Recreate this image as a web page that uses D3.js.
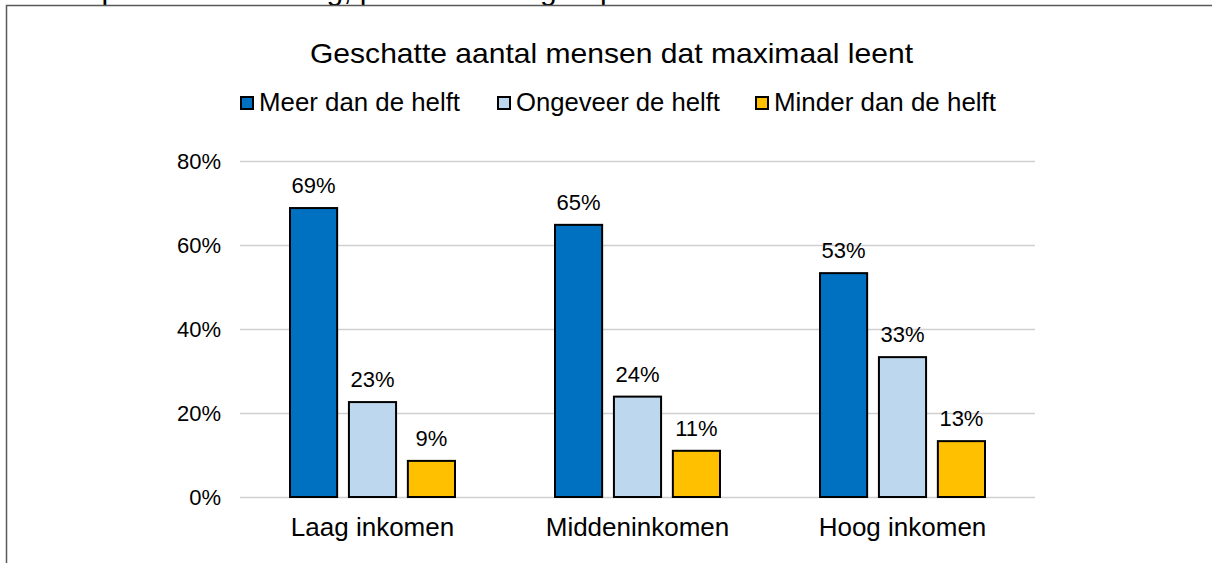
<!DOCTYPE html>
<html>
<head>
<meta charset="utf-8">
<script src="https://cdn.jsdelivr.net/npm/d3@7"></script>
<style>
  body { margin: 0; background: #fff; }
  svg { display: block; font-family: "Liberation Sans", Arial, sans-serif; }
</style>
</head>
<body>
<svg id="chart" width="1212" height="563"></svg>
<script>
const categories = ['Laag inkomen', 'Middeninkomen', 'Hoog inkomen']
const seriesNames = ['Meer dan de helft', 'Ongeveer de helft', 'Minder dan de helft']
const meerDanDeHelft = [68.8, 64.8, 53.3]
const ongeveerDeHelft = [22.6, 23.9, 33.3]
const minderDanDeHelft = [8.6, 11.0, 13.3]
const yTicks = [0, 20, 40, 60, 80]
const colors = ['#0070C0', '#BDD7EE', '#FFC000']

const series = [meerDanDeHelft, ongeveerDeHelft, minderDanDeHelft]

let svg = d3.select('#chart')
let margin = { top: 161, left: 240, right: 177, bottom: 66 }
let width = 1212 - margin.left - margin.right
let height = 563 - margin.top - margin.bottom

// caption line, cut off above the chart frame
svg.append('text')
    .attr('x', 8)
    .attr('y', -0.5)
    .attr('font-size', 30)
    .attr('fill', '#000')
    .text('Kans op maximale lening, per inkomensgroep')

// chart frame
svg.append('path')
    .attr('d', 'M6.5,563 V5.5 H1212')
    .attr('fill', 'none')
    .attr('stroke', '#595959')
    .attr('stroke-width', 1.5)

svg.append('text')
    .attr('x', 611.5)
    .attr('y', 63)
    .attr('text-anchor', 'middle')
    .attr('font-size', 28)
    .attr('textLength', 603)
    .attr('lengthAdjust', 'spacingAndGlyphs')
    .attr('fill', '#000')
    .text('Geschatte aantal mensen dat maximaal leent')

// legend
let legendX = [240, 497, 755]
let legendW = [201, 204, 222]
svg.append('g')
  .selectAll('g')
  .data(seriesNames)
  .join('g')
    .attr('transform', (d, i) => `translate(${legendX[i]},96)`)
    .each(function (d, i) {
      let g = d3.select(this)
      g.append('rect')
          .attr('x', 1)
          .attr('y', 1)
          .attr('width', 12)
          .attr('height', 12)
          .attr('fill', colors[i])
          .attr('stroke', '#000')
          .attr('stroke-width', 2)
      g.append('text')
          .attr('x', 19)
          .attr('y', 15)
          .attr('font-size', 25)
          .attr('textLength', legendW[i])
          .attr('lengthAdjust', 'spacingAndGlyphs')
          .attr('fill', '#000')
          .text(d)
    })

let plot = svg.append('g')
    .attr('transform', `translate(${margin.left},${margin.top})`)

let x0 = d3.scaleBand()
    .domain(categories)
    .range([0, width])

let x1 = d3.scaleBand()
    .domain(d3.range(series.length))
    .range([50, x0.bandwidth() - 50])
    .paddingInner(0.2)

let y = d3.scaleLinear()
    .domain([0, 80])
    .range([height, 0])

// gridlines
plot.append('g')
  .selectAll('line')
  .data(yTicks)
  .join('line')
    .attr('x1', 0)
    .attr('x2', width)
    .attr('y1', d => y(d) + 0.5)
    .attr('y2', d => y(d) + 0.5)
    .attr('stroke', '#d0d0d0')
    .attr('stroke-width', 1.5)

// y axis labels
let yAxis = d3.axisLeft(y)
    .tickValues(yTicks)
    .tickFormat(d => d + '%')
    .tickSize(0)
    .tickPadding(19)

plot.append('g')
    .call(yAxis)
    .call(g => g.select('.domain').remove())
    .call(g => g.selectAll('text')
        .attr('font-size', 22)
        .attr('font-family', '"Liberation Sans", Arial, sans-serif')
        .attr('fill', '#000'))

// x axis labels
let xAxis = d3.axisBottom(x0)
    .tickSize(0)
    .tickPadding(21)

plot.append('g')
    .attr('transform', `translate(0,${height})`)
    .call(xAxis)
    .call(g => g.select('.domain').remove())
    .call(g => g.selectAll('text')
        .attr('font-size', 26)
        .attr('font-family', '"Liberation Sans", Arial, sans-serif')
        .attr('fill', '#000'))

let rows = categories.map((c, ci) => series.map((s, si) => ({ cat: c, si: si, value: s[ci] })))

let groups = plot.selectAll('.group')
  .data(rows)
  .join('g')
    .attr('class', 'group')
    .attr('transform', (d, i) => `translate(${x0(categories[i])},0)`)

groups.selectAll('rect')
  .data(d => d)
  .join('rect')
    .attr('x', d => x1(d.si))
    .attr('y', d => y(d.value))
    .attr('width', x1.bandwidth())
    .attr('height', d => y(0) - y(d.value))
    .attr('fill', d => colors[d.si])
    .attr('stroke', '#000')
    .attr('stroke-width', 2)

groups.selectAll('text')
  .data(d => d)
  .join('text')
    .attr('x', d => x1(d.si) + x1.bandwidth() / 2)
    .attr('y', d => y(d.value) - 15)
    .attr('text-anchor', 'middle')
    .attr('font-size', 22)
    .attr('fill', '#000')
    .text(d => Math.round(d.value) + '%')
</script>
</body>
</html>
